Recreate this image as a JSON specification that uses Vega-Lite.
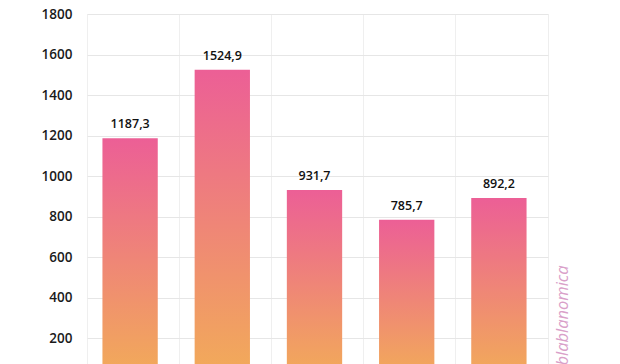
{
  "$schema": "https://vega.github.io/schema/vega-lite/v6.json",
  "autosize": "none",
  "width": 461,
  "height": 365,
  "padding": {"left": 87, "top": 14, "right": 72, "bottom": 0},
  "background": "white",
  "config": {
    "locale": {"number": {"decimal": ",", "thousands": ".", "grouping": [3], "currency": ["", " €"]}},
    "view": {"stroke": "#eeeeee"},
    "font": "Open Sans"
  },
  "data": {"values": [
    {"cat": "A", "value": 1187.3},
    {"cat": "B", "value": 1524.9},
    {"cat": "C", "value": 931.7},
    {"cat": "D", "value": 785.7},
    {"cat": "E", "value": 892.2}
  ]},
  "encoding": {
    "x": {"field": "cat", "type": "nominal", "sort": null,
      "scale": {"paddingInner": 0, "paddingOuter": 0},
      "axis": {"labels": false, "ticks": false, "domain": false, "title": null, "grid": true, "bandPosition": 0, "gridColor": "#efefef"}}
  },
  "layer": [
    {
      "mark": {"type": "bar", "width": {"band": 0.6}, "xOffset": -3,
        "fill": {"gradient": "linear", "x1": 0, "y1": 0, "x2": 0, "y2": 1,
          "stops": [{"offset": 0, "color": "#EC5F96"}, {"offset": 1, "color": "#F2AC58"}]}},
      "encoding": {
        "y": {"field": "value", "type": "quantitative", "scale": {"domain": [0, 1800], "nice": false},
          "axis": {"orient": "left", "values": [200, 400, 600, 800, 1000, 1200, 1400, 1600, 1800], "format": "d", "title": null,
            "domain": false, "ticks": false, "labelPadding": 15, "labelFontSize": 13.5, "labelFontWeight": 600,
            "labelColor": "#1a1a1a", "gridColor": "#e6e6e6"}}
      }
    },
    {
      "mark": {"type": "text", "dy": -7, "baseline": "bottom", "xOffset": -3, "fontSize": 12.5, "fontWeight": 600, "color": "#111111"},
      "encoding": {
        "text": {"field": "value", "type": "quantitative", "format": ".1f"},
        "y": {"field": "value", "type": "quantitative", "scale": {"domain": [0, 1800], "nice": false},
          "axis": {"orient": "right", "labels": false, "ticks": false, "domain": false, "grid": false,
            "title": "@blablanomica", "titleAngle": 270, "titleAnchor": "start", "titleAlign": "left", "titleBaseline": "middle",
            "titleColor": "#d9a0c9", "titleFontStyle": "italic", "titleFontWeight": "normal", "titleFontSize": 16.5, "titlePadding": 14}}
      }
    }
  ],
  "resolve": {"axis": {"y": "independent"}}
}
